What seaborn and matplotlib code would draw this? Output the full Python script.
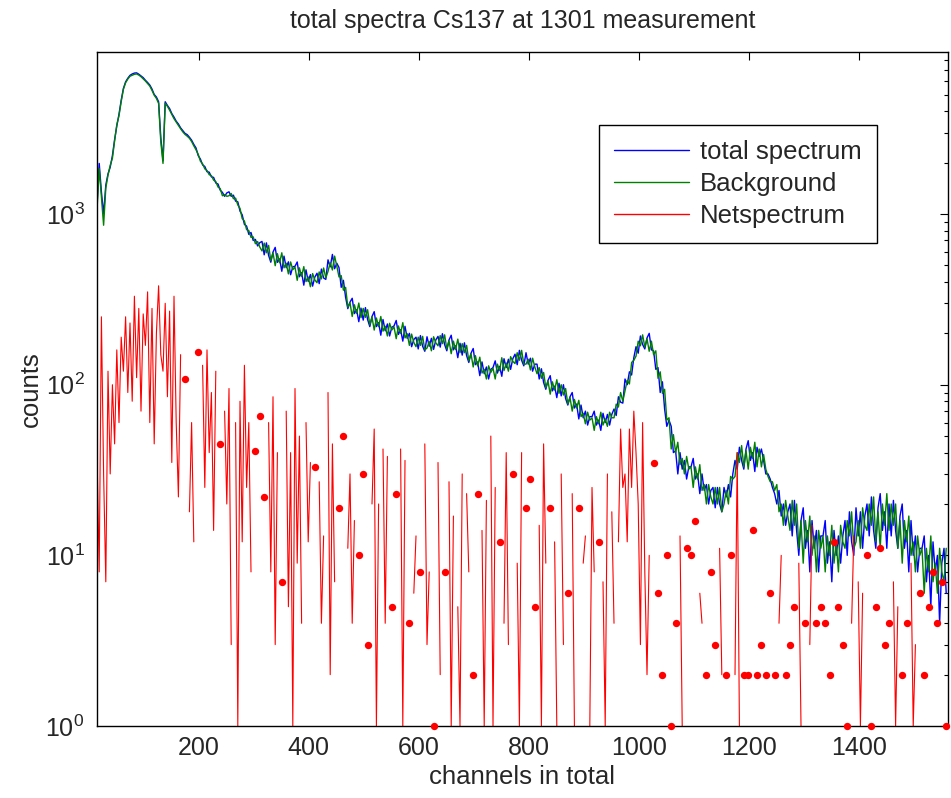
import numpy as np
import matplotlib
matplotlib.use("Agg")
import matplotlib.pyplot as plt
from matplotlib.lines import Line2D
from matplotlib.ticker import NullLocator
import seaborn as sns

# all three series read every 4 channels, starting at channel 15
# total spectrum
total_counts = [
    1120, 1980, 1350, 1000, 1480, 1720, 1880, 2200, 2730, 3280, 3850, 4650, 5450, 5950, 6250,
    6500, 6620, 6700, 6720, 6600, 6450, 6300, 6080, 5900, 5700, 5400, 5020, 4850, 4550, 2800,
    2050, 4550, 4330, 4150, 3880, 3700, 3500, 3370, 3200, 3080, 2970, 2920, 2820, 2710, 2560,
    2440, 2200, 2100, 1940, 1900, 1770, 1760, 1650, 1640, 1520, 1500, 1380, 1340, 1270, 1330,
    1350, 1270, 1290, 1190, 1180, 1040, 990, 870, 850, 760, 780, 700, 710, 650, 680,
    691, 577, 678, 572, 522, 599, 638, 521, 546, 462, 567, 485, 525, 441, 491,
    494, 524, 429, 454, 383, 471, 403, 442, 378, 427, 450, 391, 476, 422, 414,
    539, 490, 580, 478, 515, 486, 372, 409, 325, 279, 305, 321, 261, 275, 234,
    281, 239, 283, 241, 219, 251, 268, 219, 231, 195, 241, 207, 227, 193, 217,
    221, 238, 197, 210, 180, 220, 187, 200, 167, 184, 190, 162, 194, 168, 157,
    191, 168, 187, 161, 183, 192, 166, 199, 172, 158, 183, 195, 160, 169, 144,
    175, 149, 176, 148, 135, 153, 163, 131, 136, 113, 136, 116, 127, 108, 123,
    126, 138, 117, 128, 112, 142, 126, 141, 123, 142, 151, 131, 159, 139, 129,
    154, 132, 143, 120, 132, 132, 108, 124, 103, 94, 106, 113, 92, 98, 84,
    102, 86, 100, 83, 76, 85, 90, 73, 77, 63, 76, 64, 70, 58, 65,
    65, 70, 58, 62, 54, 68, 60, 67, 58, 67, 72, 66, 85, 79, 78,
    108, 100, 119, 114, 144, 167, 153, 193, 172, 162, 188, 200, 160, 158, 123,
    126, 90, 104, 72, 57, 62, 57, 40, 41, 30, 40, 32, 36, 28, 33,
    33, 37, 28, 30, 23, 30, 24, 26, 20, 24, 25, 19, 25, 20, 18,
    25, 22, 26, 22, 30, 36, 32, 43, 36, 32, 42, 47, 36, 40, 31,
    43, 38, 42, 36, 30, 30, 28, 25, 23, 20, 24, 17, 20, 15, 18,
    20, 13, 21, 14, 10, 16, 19, 11, 14, 8, 16, 11, 14, 8, 13,
    13, 16, 9, 12, 7, 14, 10, 13, 9, 13, 16, 10, 18, 12, 10,
    19, 13, 18, 11, 17, 20, 13, 22, 14, 11, 19, 23, 14, 18, 11,
    20, 13, 21, 14, 11, 17, 20, 11, 14, 8, 16, 10, 13, 8, 11,
    11, 13, 7, 10, 5, 12, 8, 10, 4, 9, 11, 6,
]

# background
background_counts = [
    1060, 1850, 1250, 860, 1420, 1690, 1930, 2120, 2680, 3340, 3770, 4560, 5380, 5880, 6180,
    6420, 6500, 6590, 6620, 6520, 6380, 6200, 6020, 5820, 5620, 5300, 4970, 4760, 4450, 2650,
    1980, 4460, 4280, 4060, 3830, 3620, 3460, 3300, 3160, 3030, 2930, 2860, 2780, 2660, 2510,
    2380, 2240, 2040, 1970, 1840, 1800, 1700, 1680, 1580, 1550, 1440, 1410, 1280, 1300, 1270,
    1280, 1320, 1230, 1240, 1130, 1080, 940, 910, 810, 800, 730, 735, 670, 690, 640,
    608, 676, 593, 655, 534, 593, 498, 586, 519, 593, 484, 515, 446, 524, 472,
    489, 409, 484, 432, 492, 402, 428, 375, 448, 411, 396, 458, 417, 483, 423,
    461, 520, 470, 567, 495, 428, 436, 358, 372, 285, 302, 251, 294, 262, 301,
    247, 280, 248, 275, 224, 249, 209, 246, 219, 251, 206, 220, 193, 229, 209,
    218, 186, 221, 200, 231, 188, 199, 170, 198, 177, 167, 190, 170, 192, 160,
    164, 179, 158, 191, 176, 169, 194, 174, 196, 162, 181, 152, 180, 161, 185,
    154, 174, 154, 170, 138, 152, 127, 148, 129, 145, 117, 123, 108, 129, 118,
    125, 108, 132, 121, 144, 121, 134, 120, 146, 137, 133, 154, 139, 159, 132,
    132, 141, 122, 143, 127, 116, 126, 109, 118, 96, 105, 88, 104, 93, 107,
    89, 100, 87, 95, 77, 84, 70, 82, 73, 81, 65, 68, 59, 69, 62,
    64, 54, 65, 59, 69, 58, 63, 57, 69, 64, 64, 77, 74, 90, 80,
    92, 106, 101, 135, 139, 147, 180, 169, 196, 166, 186, 157, 180, 150, 158,
    109, 119, 89, 94, 62, 64, 42, 51, 40, 46, 34, 37, 30, 38, 32,
    33, 25, 33, 28, 34, 24, 26, 20, 26, 22, 20, 25, 20, 25, 18,
    20, 24, 20, 29, 28, 29, 40, 35, 44, 33, 41, 32, 43, 37, 46,
    33, 42, 33, 39, 32, 29, 27, 27, 24, 26, 18, 20, 15, 21, 17,
    14, 21, 15, 20, 11, 16, 9, 16, 12, 17, 10, 13, 8, 14, 11,
    13, 8, 13, 10, 15, 9, 12, 8, 15, 12, 11, 16, 13, 18, 11,
    12, 16, 11, 19, 15, 14, 20, 15, 22, 12, 18, 11, 20, 15, 23,
    14, 20, 15, 20, 11, 16, 9, 16, 12, 17, 10, 12, 8, 13, 10,
    11, 6, 11, 8, 13, 7, 9, 6, 11, 8, 7, 11,
]

# net spectrum (0 = nothing positive in that channel)
net_counts = [
    40, 8, 250, 30, 7, 120, 30, 100, 45, 160, 60, 190, 120, 250, 90,
    230, 80, 330, 110, 280, 70, 260, 170, 350, 60, 280, 45, 200, 380, 150,
    120, 300, 85, 270, 35, 330, 60, 22, 150, 0, 108, 0, 18, 60, 12,
    0, 155, 0, 130, 25, 160, 40, 90, 14, 120, 0, 45, 0, 70, 20,
    95, 3, 0, 60, 1, 80, 12, 130, 25, 60, 8, 0, 41, 0, 66,
    0, 22, 0, 60, 8, 85, 3, 40, 0, 7, 0, 70, 5, 40, 1,
    95, 9, 50, 4, 0, 60, 12, 35, 0, 33, 0, 27, 4, 13, 0,
    90, 2, 45, 7, 0, 19, 0, 50, 0, 11, 30, 4, 16, 0, 10,
    0, 30, 0, 3, 0, 20, 55, 1, 20, 0, 42, 4, 38, 0, 5,
    0, 23, 0, 42, 1, 36, 0, 4, 0, 6, 13, 0, 8, 0, 45,
    3, 8, 0, 1, 0, 35, 2, 0, 8, 0, 27, 1, 17, 0, 5,
    1, 30, 0, 23, 8, 0, 2, 0, 23, 0, 14, 1, 21, 0, 50,
    1, 25, 0, 12, 0, 4, 40, 3, 0, 30, 0, 9, 1, 40, 0,
    19, 0, 28, 0, 5, 0, 15, 1, 45, 9, 0, 19, 0, 12, 1,
    0, 30, 3, 0, 6, 0, 23, 1, 0, 19, 0, 9, 13, 0, 1,
    25, 8, 0, 12, 0, 7, 1, 30, 0, 18, 4, 0, 12, 55, 25,
    30, 12, 55, 25, 70, 40, 20, 3, 60, 8, 2, 10, 0, 35, 0,
    6, 0, 2, 0, 10, 0, 1, 0, 4, 0, 13, 1, 0, 11, 0,
    10, 0, 16, 0, 6, 4, 0, 2, 0, 8, 0, 3, 0, 11, 2,
    0, 2, 0, 10, 0, 2, 40, 1, 0, 2, 0, 2, 0, 14, 0,
    2, 0, 3, 0, 2, 0, 6, 0, 2, 0, 4, 10, 0, 2, 0,
    3, 0, 5, 0, 9, 1, 0, 4, 0, 3, 15, 0, 4, 0, 5,
    0, 4, 0, 2, 0, 12, 0, 5, 0, 3, 0, 1, 0, 4, 13,
    0, 7, 1, 6, 0, 10, 0, 1, 0, 5, 0, 11, 0, 3, 0,
    4, 0, 7, 1, 5, 0, 2, 0, 4, 0, 9, 1, 3, 0, 6,
    0, 2, 0, 5, 0, 8, 0, 4, 0, 7, 0, 1,
]

channels = 15 + 4 * np.arange(len(total_counts))
net = np.array(net_counts, dtype=float)

# single positive channels between gaps only show up as dots
pos = net > 0
left = np.r_[False, pos[:-1]]
right = np.r_[pos[1:], False]
isolated = pos & ~left & ~right

sns.set_theme(style="white")
plt.rcParams["font.family"] = ["Liberation Sans", "DejaVu Sans"]
plt.rcParams["axes.edgecolor"] = "black"
plt.rcParams["axes.linewidth"] = 1.0

fig = plt.figure(figsize=(9.51, 7.98), dpi=100)
ax = fig.add_axes([0.102, 0.0902, 0.8947, 0.8446])

blue, green, red = "#0000ff", "#008000", "#ff0000"
sns.lineplot(x=channels, y=total_counts, color=blue, lw=1.0,
             estimator=None, legend=False, ax=ax)
sns.lineplot(x=channels, y=background_counts, color=green, lw=1.0,
             estimator=None, legend=False, ax=ax)
sns.lineplot(x=channels, y=net, color=red, lw=0.8,
             estimator=None, legend=False, ax=ax)
sns.scatterplot(x=channels[isolated], y=net[isolated], color=red, s=28,
                linewidth=0, clip_on=False, legend=False, zorder=5, ax=ax)

ax.set_yscale("log", nonpositive="mask")
ax.set_xlim(15, 1562)
ax.set_ylim(1, 8900)
ax.set_xticks([200, 400, 600, 800, 1000, 1200, 1400])
ax.xaxis.set_minor_locator(NullLocator())
ax.tick_params(which="both", direction="in", top=True, right=True,
               color="black", labelsize=18)
ax.tick_params(which="major", length=6, width=0.8)
ax.tick_params(which="minor", length=3, width=0.8)
ax.tick_params(axis="y", which="major", pad=9)
ax.tick_params(axis="x", which="major", pad=7)

ax.set_xlabel("channels in total", fontsize=18.5, labelpad=4)
ax.set_ylabel("counts", fontsize=18.5, labelpad=2)
ax.set_title("total spectra Cs137 at 1301 measurement", fontsize=18, pad=17)

handles = [Line2D([], [], color=c, lw=1.0) for c in (blue, green, red)]
leg = ax.legend(handles, ["total spectrum", "Background", "Netspectrum"],
                loc="upper right", bbox_to_anchor=(0.917, 0.892),
                borderaxespad=0, fancybox=False, framealpha=1,
                edgecolor="black", fontsize=18.5, handlelength=2.9,
                handletextpad=0.45, borderpad=0.6, labelspacing=0.3)
leg.get_frame().set_linewidth(1.0)

fig.savefig("out.png", dpi=100)
